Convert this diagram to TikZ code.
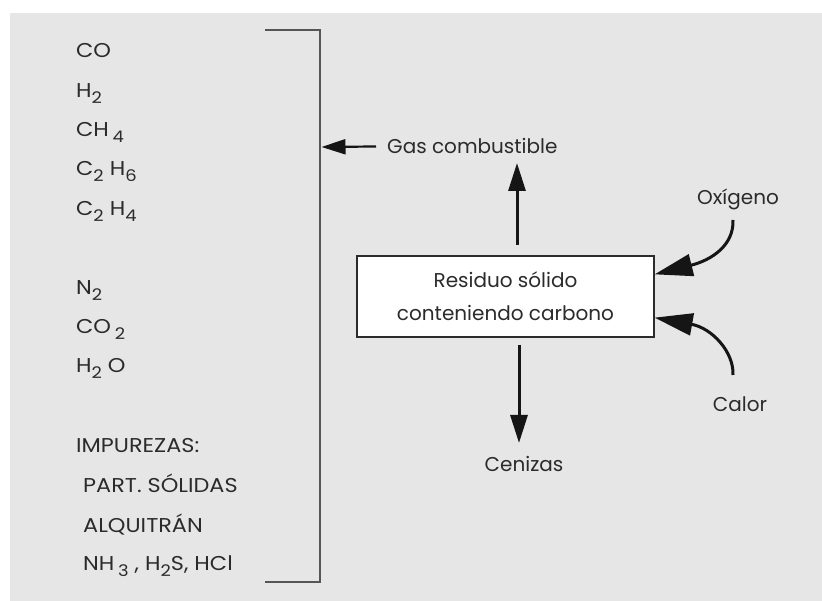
\documentclass[tikz,border=0pt]{standalone}
\usepackage{fontspec}
\setmainfont{Poppins}
\usetikzlibrary{arrows.meta,calc}
\definecolor{bg}{HTML}{E6E6E6}
\definecolor{txt}{HTML}{2B2B2B}
\definecolor{brk}{HTML}{555555}
\definecolor{ink}{HTML}{151515}
\newcommand\chs[1]{\raisebox{-0.3em}{\fontsize{16}{16}\selectfont #1}}
\newcommand\wide[1]{\scalebox{1.12}[1]{#1}}
\begin{document}
\begin{tikzpicture}[x=1pt,y=-1pt,
  lab/.style={inner sep=0pt, text=txt, font=\fontsize{20}{20}\selectfont},
  arr/.style={draw=ink, line width=3pt, -{Triangle[length=28pt,width=17pt]}},
  bigarr/.style={draw=ink, line width=3pt, -{Triangle[length=38pt,width=22pt]}},
  boxst/.style={draw=txt, fill=white, line width=1.3pt, minimum width=297pt, minimum height=81pt, inner sep=0pt, align=center, text=txt, font=\fontsize{20}{33}\selectfont}]
\useasboundingbox (0,0) rectangle (822,601);
\fill[bg] (10,13) rectangle (822,601);
% left column
\node[lab, anchor=base west] (co)   at (76,58)  {\wide{CO}};
\node[lab, anchor=base west] (h2)   at (76,98)  {\wide{H\chs{2}}};
\node[lab, anchor=base west] (ch4)  at (76,137) {\wide{CH\,\chs{4}}};
\node[lab, anchor=base west] (c2h6) at (76,176) {\wide{C\chs{2} H\chs{6}}};
\node[lab, anchor=base west] (c2h4) at (76,216) {\wide{C\chs{2} H\chs{4}}};
\node[lab, anchor=base west] (n2)   at (76,295) {\wide{N\chs{2}}};
\node[lab, anchor=base west] (co2)  at (76,334) {\wide{CO\,\chs{2}}};
\node[lab, anchor=base west] (h2o)  at (76,373) {\wide{H\chs{2} O}};
\node[lab, anchor=base west] (imp)  at (76,452) {\wide{IMPUREZAS:}};
\node[lab, anchor=base west] (part) at (83,492) {\wide{PART. SÓLIDAS}};
\node[lab, anchor=base west] (alq)  at (83,532) {\wide{ALQUITRÁN}};
\node[lab, anchor=base west] (nh3)  at (83,570) {\wide{NH\,\chs{3} , H\chs{2}S, HCl}};
% bracket
\draw[brk, line width=2.5pt] (265,30) -- (320,30) -- (320,582) -- (265,582);
\coordinate (brkin) at (321.5,147);
% right part
\node[boxst] (box) at (505.5,296.5) {Residuo sólido\\conteniendo carbono};
\node[lab, anchor=base west] (gas) at (387,154) {Gas combustible};
\node[lab, anchor=base] (oxi) at (738,205) {Oxígeno};
\node[lab, anchor=base] (cal) at (740,412) {Calor};
\node[lab, anchor=base] (cen) at (524,471) {Cenizas};
\coordinate (upend) at (517,163);
\coordinate (upstart) at (517,245);
\coordinate (dnstart) at (519,345);
\coordinate (dnend) at (519,443);
\coordinate (oxs) at (733,220);
\coordinate (cas) at (733,375);
\coordinate (oxt) at ($(box.north east)+(0,19)$);
\coordinate (cat) at ($(box.south east)+(0,-20)$);
\draw[arr, -{Triangle[length=24pt,width=15pt]}, line width=2.2pt] ($(gas.west)+(-11,0)$) -- (brkin);
\draw[arr] (upstart) -- (upend);
\draw[arr] (dnstart) -- (dnend);
\draw[bigarr] (oxs) .. controls (734,245) and (712,260) .. (oxt);
\draw[bigarr] (cas) .. controls (734,352) and (712,328) .. (cat);
\end{tikzpicture}
\end{document}
